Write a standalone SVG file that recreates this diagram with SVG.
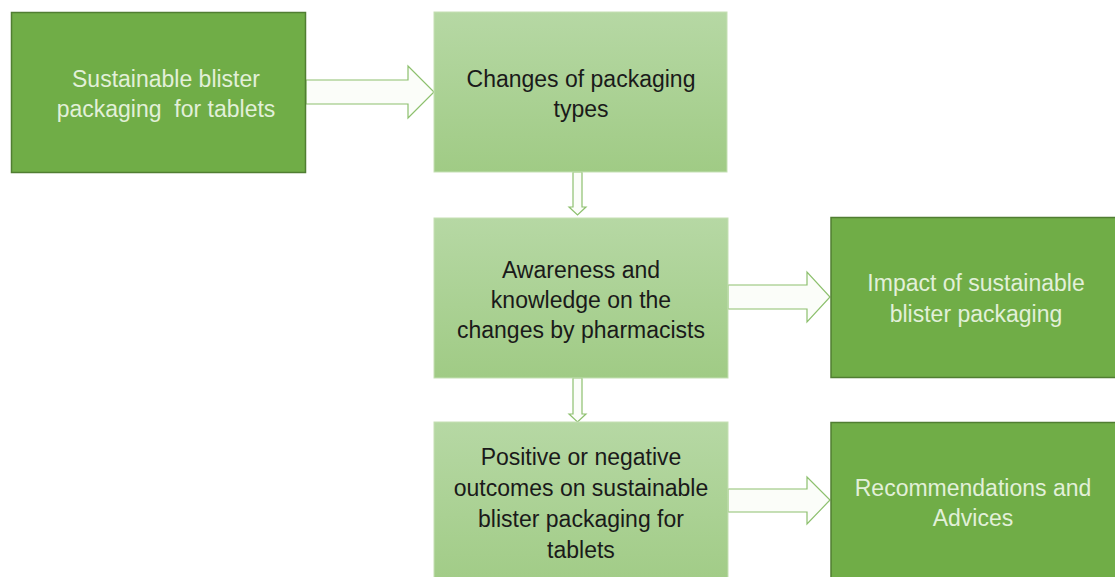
<svg xmlns="http://www.w3.org/2000/svg" width="1115" height="577" viewBox="0 0 1115 577">
<defs>
<linearGradient id="lg" x1="0" y1="0" x2="0" y2="1">
<stop offset="0" stop-color="#b6d8a4"/>
<stop offset="1" stop-color="#a0cb85"/>
</linearGradient>
<style>
.dark{fill:#70ad47;stroke:#507e32;stroke-width:1.5}
.light{fill:url(#lg);stroke:#c5e0b4;stroke-width:1}
.tw{font-family:"Liberation Sans",Arial,sans-serif;font-size:23px;fill:#e2f0d9;text-anchor:middle}
.tb{font-family:"Liberation Sans",Arial,sans-serif;font-size:23px;fill:#1a1a1a;text-anchor:middle}
.arr{fill:#fbfdf9;stroke:#8dc06e;stroke-width:1.2;stroke-linejoin:miter}
</style>
</defs>
<rect width="1115" height="577" fill="#ffffff"/>
<g id="connectors">
<polygon class="arr" points="306,80 408,80 408,66 434,92 408,118 408,104 306,104"/>
<polygon class="arr" points="573,172 582,172 582,207 586,207 577.5,215 569,207 573,207"/>
<polygon class="arr" points="728,285 807,285 807,272 830,297 807,322 807,309 728,309"/>
<polygon class="arr" points="573,378 582,378 582,414 586,414 577.5,422 569,414 573,414"/>
<polygon class="arr" points="728,489 807,489 807,477 830,500 807,524 807,512 728,512"/>
</g>
<g id="node1">
<rect class="dark" x="11.5" y="12.5" width="294" height="160"/>
<text class="tw" x="166" y="87">Sustainable blister</text>
<text class="tw" x="166" y="117" xml:space="preserve">packaging  for tablets</text>
</g>
<g id="node2">
<rect class="light" x="434" y="12" width="293" height="160"/>
<text class="tb" x="581" y="87">Changes of packaging</text>
<text class="tb" x="581" y="117">types</text>
</g>
<g id="node3">
<rect class="light" x="434" y="218" width="294" height="160"/>
<text class="tb" x="581" y="278">Awareness and</text>
<text class="tb" x="581" y="308">knowledge on the</text>
<text class="tb" x="581" y="338">changes by pharmacists</text>
</g>
<g id="node4">
<rect class="dark" x="831" y="217.5" width="290" height="160"/>
<text class="tw" x="976" y="291">Impact of sustainable</text>
<text class="tw" x="976" y="322">blister packaging</text>
</g>
<g id="node5">
<rect class="light" x="434" y="422" width="294" height="170"/>
<text class="tb" x="581" y="465">Positive or negative</text>
<text class="tb" x="581" y="496">outcomes on sustainable</text>
<text class="tb" x="581" y="527">blister packaging for</text>
<text class="tb" x="581" y="558">tablets</text>
</g>
<g id="node6">
<rect class="dark" x="831" y="422.5" width="290" height="170"/>
<text class="tw" x="973" y="496">Recommendations and</text>
<text class="tw" x="973" y="526">Advices</text>
</g>
</svg>
